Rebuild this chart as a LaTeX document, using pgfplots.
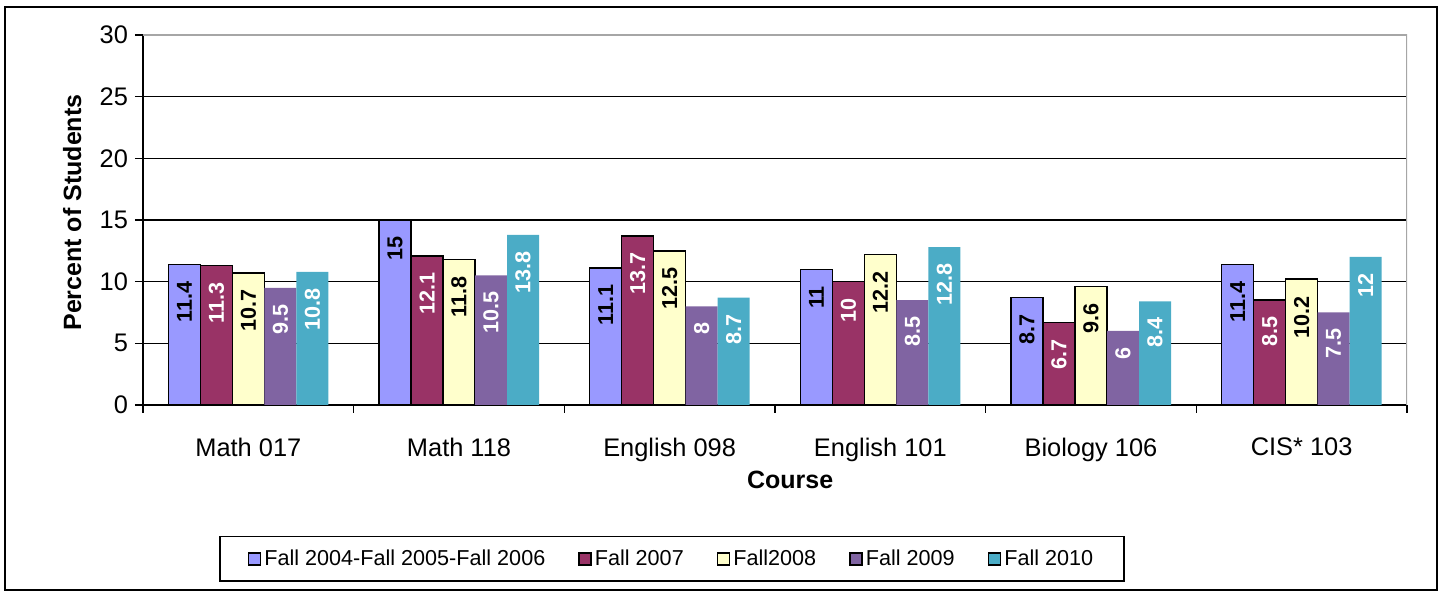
\documentclass[border=0pt]{standalone}
\usepackage{pgfplots}
\pgfplotsset{compat=1.18}
\usepackage{fontspec}
\setmainfont{Liberation Sans}
\definecolor{cA}{HTML}{9999FF}
\definecolor{cB}{HTML}{993366}
\definecolor{cC}{HTML}{FFFFCC}
\definecolor{cD}{HTML}{8064A2}
\definecolor{cE}{HTML}{4BACC6}
\begin{document}
\begin{tikzpicture}
\begin{axis}[
  scale only axis, width=632pt, height=185pt,
  /pgf/number format/assume math mode=true,
  ybar=0pt, bar width=16pt,
  xmin=-0.5, xmax=5.5, ymin=0, ymax=30,
  ytick={0,5,...,30},
  xtick={-0.5,0.5,...,5.5}, xticklabels={},
  extra x ticks={0,1,2,3,4,5},
  extra x tick labels={Math 017,Math 118,English 098,English 101,Biology 106,CIS* 103},
  extra x tick style={major tick length=0pt, xticklabel style={yshift=-13pt}},
  axis lines*=left,
  tick align=outside, major tick length=4pt,
  ymajorgrids, grid style={black, line width=0.6pt},
  axis line style={line width=0.8pt},
  tick style={black, line width=0.8pt},
  ticklabel style={font=\fontsize{12.7}{14}\selectfont},
  yticklabel style={xshift=0pt},
  ylabel={Percent of Students},
  ylabel style={font=\fontsize{12.5}{14}\selectfont\bfseries, at={(axis description cs:-0.056,0.52)}, anchor=center},
  xlabel={Course},
  xlabel style={font=\fontsize{12.5}{14}\selectfont\bfseries, at={(axis description cs:0.512,-0.203)}, anchor=center},
  nodes near coords,
  every node near coord/.append style={font=\fontsize{10.8}{12}\selectfont\bfseries, yshift=-6pt, rotate=90, anchor=east, inner sep=2pt},
  legend image code/.code={\draw[#1] (0pt,-3pt) rectangle (6pt,3pt);},
  legend columns=5,
  legend style={at={(0.4185,-0.416)}, anchor=center, draw=black, line width=0.8pt,
    font=\fontsize{10.8}{12}\selectfont, inner xsep=14pt, inner ysep=5pt,
    nodes={inner sep=1.5pt},
    /tikz/every even column/.append style={column sep=15pt}},
]
\addplot[fill=cA, draw=black, line width=0.8pt, every node near coord/.append style={text=black}] coordinates {(0,11.4) (1,15) (2,11.1) (3,11) (4,8.7) (5,11.4)};
\addplot[fill=cB, draw=black, line width=0.8pt, every node near coord/.append style={text=white}] coordinates {(0,11.3) (1,12.1) (2,13.7) (3,10) (4,6.7) (5,8.5)};
\addplot[fill=cC, draw=black, line width=0.8pt, every node near coord/.append style={text=black}] coordinates {(0,10.7) (1,11.8) (2,12.5) (3,12.2) (4,9.6) (5,10.2)};
\addplot[fill=cD, draw=none, every node near coord/.append style={text=white}] coordinates {(0,9.5) (1,10.5) (2,8) (3,8.5) (4,6) (5,7.5)};
\addplot[fill=cE, draw=none, every node near coord/.append style={text=white}] coordinates {(0,10.8) (1,13.8) (2,8.7) (3,12.8) (4,8.4) (5,12)};
\legend{Fall 2004-Fall 2005-Fall 2006, Fall 2007, Fall2008, Fall 2009, Fall 2010}
\draw[gray!70, line width=0.8pt] (rel axis cs:0,1) -- (rel axis cs:1,1) -- (rel axis cs:1,0);
\end{axis}
\draw[line width=0.8pt] (-69pt,-92.5pt) rectangle (647pt,199pt);
\path (-71.5pt,-93.5pt) rectangle (649pt,202.5pt);
\end{tikzpicture}
\end{document}
